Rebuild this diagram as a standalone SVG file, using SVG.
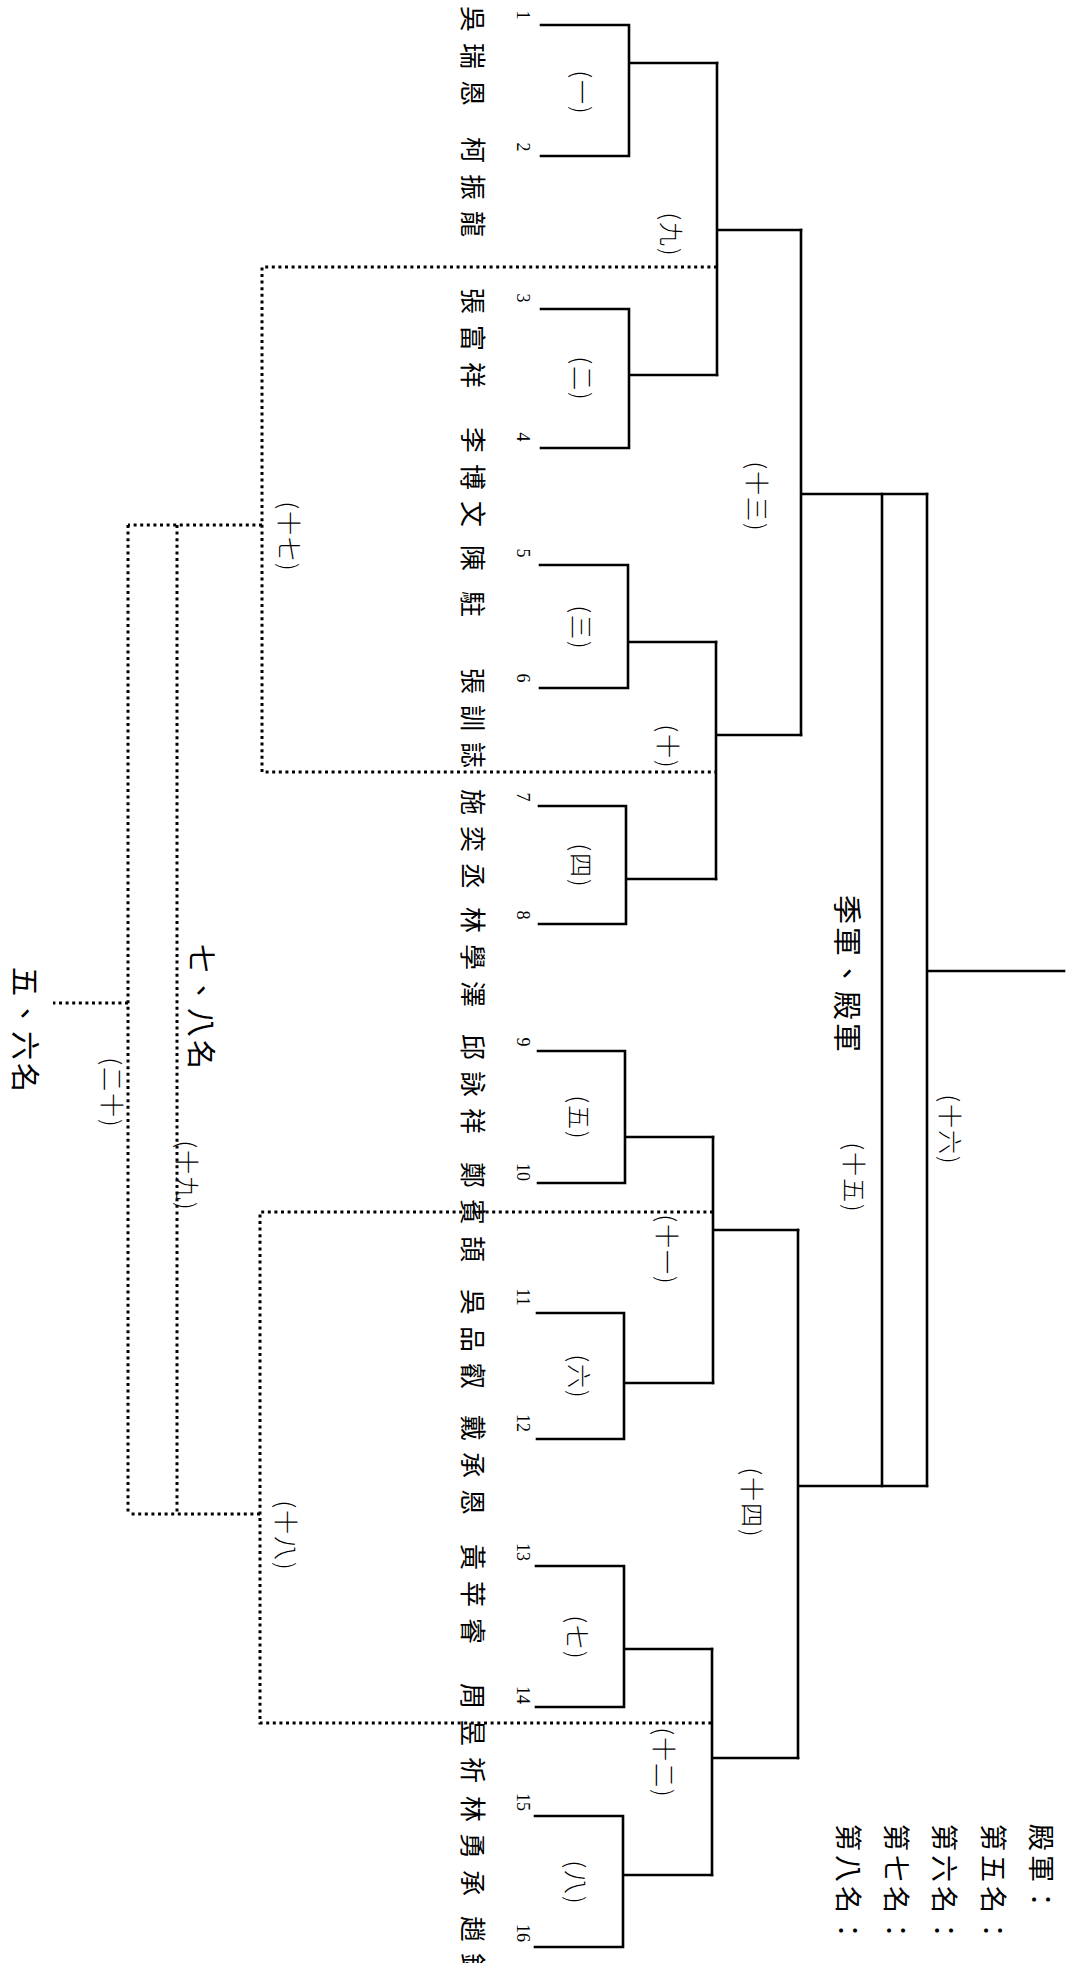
<svg xmlns="http://www.w3.org/2000/svg" width="1072" height="1963" viewBox="0 0 1072 1963">
<style>
.ln{stroke:#000;stroke-width:2.6;fill:none;stroke-linecap:square}
.dt{stroke:#000;stroke-width:3;stroke-dasharray:3 3.6;fill:none}
.nm{font-family:"Noto Sans CJK TC","Noto Sans CJK SC",sans-serif;font-size:26px;letter-spacing:11px;fill:#000}
.no{font-family:"Liberation Serif",serif;font-size:18px;fill:#000}
.lb{font-family:"Noto Sans CJK TC","Noto Sans CJK SC",sans-serif;font-size:24px;letter-spacing:2px;fill:#000;font-weight:300}
.big{font-family:"Noto Sans CJK TC","Noto Sans CJK SC",sans-serif;font-size:29px;letter-spacing:3px;fill:#000}
.rk{font-family:"Noto Sans CJK TC","Noto Sans CJK SC",sans-serif;font-size:27px;letter-spacing:4px;fill:#000}
</style>
<rect width="1072" height="1963" fill="#fff"/>
<g id="connectors">
<path class="ln" d="M541,25 H629 V156 H541 M629,63 H717"/>
<path class="ln" d="M541,309 H629 V448 H541 M629,375 H717"/>
<path class="ln" d="M540,565 H628 V688 H540 M628,642 H716"/>
<path class="ln" d="M539,806 H626 V924 H539 M626,879 H716"/>
<path class="ln" d="M538,1051 H625 V1183 H538 M625,1137 H713"/>
<path class="ln" d="M537,1313 H624 V1439 H537 M624,1383 H713"/>
<path class="ln" d="M536,1566 H624 V1707 H536 M624,1649 H712"/>
<path class="ln" d="M535,1816 H623 V1947 H535 M623,1875 H712"/>
<path class="ln" d="M717,63 V375 M717,230 H801"/>
<path class="ln" d="M716,642 V879 M716,735 H801"/>
<path class="ln" d="M713,1137 V1383 M713,1230 H798"/>
<path class="ln" d="M712,1649 V1875 M712,1758 H798"/>
<path class="ln" d="M801,230 V735 M801,494 H927"/>
<path class="ln" d="M798,1230 V1758 M798,1486 H927"/>
<path class="ln" d="M882,494 V1486" stroke-width="2"/>
<path class="ln" d="M927,494 V1486 M927,971 H1064"/>
<path class="dt" d="M717,267 H262 V772 H716"/>
<path class="dt" d="M262,525 H128"/>
<path class="dt" d="M713,1212 H260 V1723 H712"/>
<path class="dt" d="M260,1514 H128"/>
<path class="dt" d="M177,525 V1514"/>
<path class="dt" d="M128,525 V1514"/>
<path class="dt" d="M128,1003 H53"/>
</g>
<g id="players">
<g id="p1"><text class="no" transform="translate(523,15) rotate(90)" text-anchor="middle" dominant-baseline="central">1</text><text class="nm" transform="translate(474,6) rotate(90)" dominant-baseline="central">吳瑞恩</text></g>
<g id="p2"><text class="no" transform="translate(523,147) rotate(90)" text-anchor="middle" dominant-baseline="central">2</text><text class="nm" transform="translate(474,137) rotate(90)" dominant-baseline="central">柯振龍</text></g>
<g id="p3"><text class="no" transform="translate(523,298) rotate(90)" text-anchor="middle" dominant-baseline="central">3</text><text class="nm" transform="translate(474,288) rotate(90)" dominant-baseline="central">張富祥</text></g>
<g id="p4"><text class="no" transform="translate(523,437) rotate(90)" text-anchor="middle" dominant-baseline="central">4</text><text class="nm" transform="translate(474,427) rotate(90)" dominant-baseline="central">李博文</text></g>
<g id="p5"><text class="no" transform="translate(523,553) rotate(90)" text-anchor="middle" dominant-baseline="central">5</text><text class="nm" transform="translate(474,545) rotate(90)" dominant-baseline="central" style="letter-spacing:20px">陳駐</text></g>
<g id="p6"><text class="no" transform="translate(523,678) rotate(90)" text-anchor="middle" dominant-baseline="central">6</text><text class="nm" transform="translate(474,668) rotate(90)" dominant-baseline="central">張訓誌</text></g>
<g id="p7"><text class="no" transform="translate(523,797) rotate(90)" text-anchor="middle" dominant-baseline="central">7</text><text class="nm" transform="translate(474,789) rotate(90)" dominant-baseline="central">施奕丞</text></g>
<g id="p8"><text class="no" transform="translate(523,915) rotate(90)" text-anchor="middle" dominant-baseline="central">8</text><text class="nm" transform="translate(474,907) rotate(90)" dominant-baseline="central">林學澤</text></g>
<g id="p9"><text class="no" transform="translate(523,1042) rotate(90)" text-anchor="middle" dominant-baseline="central">9</text><text class="nm" transform="translate(474,1034) rotate(90)" dominant-baseline="central">邱詠祥</text></g>
<g id="p10"><text class="no" transform="translate(523,1172) rotate(90)" text-anchor="middle" dominant-baseline="central">10</text><text class="nm" transform="translate(474,1162) rotate(90)" dominant-baseline="central">鄭賓頡</text></g>
<g id="p11"><text class="no" transform="translate(523,1297) rotate(90)" text-anchor="middle" dominant-baseline="central">11</text><text class="nm" transform="translate(474,1289) rotate(90)" dominant-baseline="central">吳品叡</text></g>
<g id="p12"><text class="no" transform="translate(523,1423) rotate(90)" text-anchor="middle" dominant-baseline="central">12</text><text class="nm" transform="translate(474,1415) rotate(90)" dominant-baseline="central">戴承恩</text></g>
<g id="p13"><text class="no" transform="translate(523,1552) rotate(90)" text-anchor="middle" dominant-baseline="central">13</text><text class="nm" transform="translate(474,1544) rotate(90)" dominant-baseline="central">黃苹睿</text></g>
<g id="p14"><text class="no" transform="translate(523,1695) rotate(90)" text-anchor="middle" dominant-baseline="central">14</text><text class="nm" transform="translate(474,1683) rotate(90)" dominant-baseline="central">周昱祈</text></g>
<g id="p15"><text class="no" transform="translate(523,1802) rotate(90)" text-anchor="middle" dominant-baseline="central">15</text><text class="nm" transform="translate(474,1796) rotate(90)" dominant-baseline="central">林勇承</text></g>
<g id="p16"><text class="no" transform="translate(523,1933) rotate(90)" text-anchor="middle" dominant-baseline="central">16</text><text class="nm" transform="translate(474,1916) rotate(90)" dominant-baseline="central">趙鈞道</text></g>
</g>
<g id="matches">
<g id="m1"><text class="lb" transform="translate(583,93) rotate(90)" text-anchor="middle" dominant-baseline="central">(一)</text></g>
<g id="m2"><text class="lb" transform="translate(583,379) rotate(90)" text-anchor="middle" dominant-baseline="central">(二)</text></g>
<g id="m3"><text class="lb" transform="translate(582,628) rotate(90)" text-anchor="middle" dominant-baseline="central">(三)</text></g>
<g id="m4"><text class="lb" transform="translate(582,866) rotate(90)" text-anchor="middle" dominant-baseline="central">(四)</text></g>
<g id="m5"><text class="lb" transform="translate(580,1118) rotate(90)" text-anchor="middle" dominant-baseline="central">(五)</text></g>
<g id="m6"><text class="lb" transform="translate(580,1377) rotate(90)" text-anchor="middle" dominant-baseline="central">(六)</text></g>
<g id="m7"><text class="lb" transform="translate(578,1638) rotate(90)" text-anchor="middle" dominant-baseline="central">(七)</text></g>
<g id="m8"><text class="lb" transform="translate(577,1883) rotate(90)" text-anchor="middle" dominant-baseline="central">(八)</text></g>
<g id="m9"><text class="lb" transform="translate(672,235) rotate(90)" text-anchor="middle" dominant-baseline="central">(九)</text></g>
<g id="m10"><text class="lb" transform="translate(669,747) rotate(90)" text-anchor="middle" dominant-baseline="central">(十)</text></g>
<g id="m11"><text class="lb" transform="translate(668,1250) rotate(90)" text-anchor="middle" dominant-baseline="central">(十一)</text></g>
<g id="m12"><text class="lb" transform="translate(665,1763) rotate(90)" text-anchor="middle" dominant-baseline="central">(十二)</text></g>
<g id="m13"><text class="lb" transform="translate(758,497) rotate(90)" text-anchor="middle" dominant-baseline="central">(十三)</text></g>
<g id="m14"><text class="lb" transform="translate(753,1503) rotate(90)" text-anchor="middle" dominant-baseline="central">(十四)</text></g>
<g id="m15"><text class="lb" transform="translate(855,1178) rotate(90)" text-anchor="middle" dominant-baseline="central">(十五)</text><text class="big" transform="translate(849,975) rotate(90)" text-anchor="middle" dominant-baseline="central">季軍、殿軍</text></g>
<g id="m16"><text class="lb" transform="translate(951,1130) rotate(90)" text-anchor="middle" dominant-baseline="central">(十六)</text></g>
<g id="m17"><text class="lb" transform="translate(290,537) rotate(90)" text-anchor="middle" dominant-baseline="central">(十七)</text></g>
<g id="m18"><text class="lb" transform="translate(287,1536) rotate(90)" text-anchor="middle" dominant-baseline="central">(十八)</text></g>
<g id="m19"><text class="lb" transform="translate(188,1176) rotate(90)" text-anchor="middle" dominant-baseline="central">(十九)</text><text class="big" transform="translate(203,1008) rotate(90)" text-anchor="middle" dominant-baseline="central">七、八名</text></g>
<g id="m20"><text class="lb" transform="translate(113,1093) rotate(90)" text-anchor="middle" dominant-baseline="central">(二十)</text><text class="big" transform="translate(27,1031) rotate(90)" text-anchor="middle" dominant-baseline="central">五、六名</text></g>
</g>
<g id="ranking">
<text class="rk" transform="translate(1042,1824) rotate(90)" dominant-baseline="central">殿軍：</text>
<text class="rk" transform="translate(994,1824) rotate(90)" dominant-baseline="central">第五名：</text>
<text class="rk" transform="translate(945,1824) rotate(90)" dominant-baseline="central">第六名：</text>
<text class="rk" transform="translate(897,1824) rotate(90)" dominant-baseline="central">第七名：</text>
<text class="rk" transform="translate(849,1824) rotate(90)" dominant-baseline="central">第八名：</text>
</g>
</svg>
